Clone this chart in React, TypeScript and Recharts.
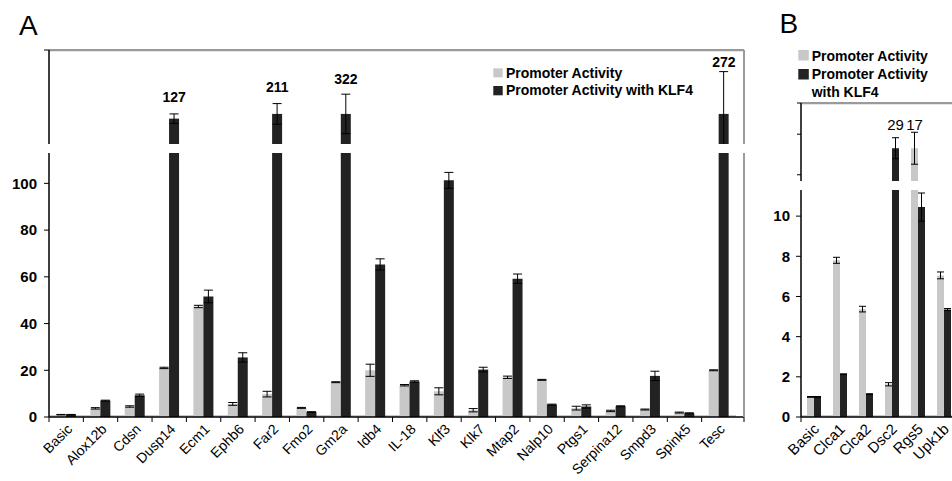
import React from 'react';
import { ComposedChart, Bar, XAxis, YAxis, ErrorBar, Scatter, ReferenceArea } from 'recharts';

const FONT = '"Liberation Sans", Arial, Helvetica, sans-serif';
const GRAY = '#c8c8c8';
const DARK = '#222222';
const BORDER = '#9a9a9a';

// ---------------- Panel A data ----------------
const genesA = ['Basic', 'Alox12b', 'Cdsn', 'Dusp14', 'Ecm1', 'Ephb6', 'Far2', 'Fmo2', 'Gm2a', 'Idb4', 'IL-18', 'Klf3', 'Klk7', 'Mtap2', 'Nalp10', 'Ptgs1', 'Serpina12', 'Smpd3', 'Spink5', 'Tesc'];
const activityA = [1.0, 3.7, 4.5, 21.0, 47.3, 5.6, 9.8, 3.9, 14.9, 20.0, 13.6, 11.0, 2.9, 17.0, 15.9, 3.8, 2.6, 3.2, 1.9, 20.0];
const activityErrA = [0.1, 0.3, 0.3, 0.3, 0.5, 0.6, 1.2, 0.2, 0.2, 2.6, 0.3, 1.5, 0.7, 0.5, 0.2, 0.8, 0.3, 0.2, 0.2, 0.2];
const klf4A = [1.0, 7.0, 9.3, 127, 51.6, 25.5, 211, 2.1, 322, 65.3, 15.2, 101.3, 20.3, 59.2, 5.3, 4.5, 4.6, 17.6, 1.6, 272];
const klf4ErrA = [0.1, 0.2, 0.5, null, 2.7, 2.0, null, 0.2, null, 2.4, 0.3, 3.4, 1.0, 2.0, 0.2, 0.7, 0.2, 2.0, 0.2, null];
// upper (broken-axis) segment of panel A, in the segment's own display units (0-100)
const klf4UpperA = [null, null, null, 27, null, null, 32, null, 32, null, null, null, null, null, null, null, null, null, null, 32];
const klf4UpperErrA = [null, null, null, 5, null, null, 11, null, 21, null, null, null, null, null, null, null, null, null, null, 45];
const labelHeightA = [null, null, null, 45, null, null, 55, null, 64, null, null, null, null, null, null, null, null, null, null, 82];
const yTicksA = [0, 20, 40, 60, 80, 100];

// ---------------- Panel B data ----------------
const genesB = ['Basic', 'Clca1', 'Clca2', 'Dsc2', 'Rgs5', 'Upk1b'];
const activityB = [1.0, 7.8, 5.37, 1.63, 17, 7.05];
const activityErrB = [0.02, 0.15, 0.14, 0.08, null, 0.17];
const klf4B = [1.0, 2.13, 1.14, 29, 10.45, 5.35];
const klf4ErrB = [0.02, 0.02, 0.02, null, 0.7, 0.05];
const activityUpperB = [null, null, null, null, 42, null];
const activityUpperErrB = [null, null, null, null, 20.5, null];
const klf4UpperB = [null, null, null, 42, null, null];
const klf4UpperErrB = [null, null, null, 13.5, null, null];
const labelHeightB = [null, null, null, 65, 65, null];
const yTicksB = [0, 2, 4, 6, 8, 10];
const upperTicksB = [8, 60, 100];

const dataA = genesA.map((gene, i) => ({
  gene,
  basal: activityA[i],
  basalErr: activityErrA[i],
  klf4: klf4A[i],
  klf4Err: klf4ErrA[i],
  basalUp: null as number | null,
  klf4Up: klf4UpperA[i],
  klf4UpErr: klf4UpperErrA[i],
  klf4LabelPos: labelHeightA[i],
  klf4Label: labelHeightA[i] != null ? String(klf4A[i]) : null,
}));

const dataB = genesB.map((gene, i) => ({
  gene,
  basal: activityB[i],
  basalErr: activityErrB[i],
  klf4: klf4B[i],
  klf4Err: klf4ErrB[i],
  basalUp: activityUpperB[i],
  basalUpErr: activityUpperErrB[i],
  klf4Up: klf4UpperB[i],
  klf4UpErr: klf4UpperErrB[i],
  basalLabelPos: activityUpperB[i] != null ? labelHeightB[i] : null,
  basalLabel: activityUpperB[i] != null ? String(activityB[i]) : null,
  klf4LabelPos: klf4UpperB[i] != null ? labelHeightB[i] : null,
  klf4Label: klf4UpperB[i] != null ? String(klf4B[i]) : null,
}));

// ---------------- layout (page coordinates) ----------------
const A_LEFT = 49;
const A_RIGHT = 744;
const A_PAD = 8;
const A_AXIS_W = 41;
const A_X0 = 8;
const A_CHART_W = A_RIGHT + 2 - A_X0;
const BAND_A = (A_RIGHT - A_LEFT - A_PAD) / genesA.length;
const BAR_A = 10;

const B_AXIS_W = 40;
const B_LEFT = 801;
const B_CHART_W = B_AXIS_W + 156;
const BAR_B = 7;

function makeValueLabel(textKey: string, dx: number, bold: boolean, size: number) {
  return (props: any) => {
    const { cx, cy, payload } = props;
    if (!payload || payload[textKey] == null || cx == null || cy == null || Number.isNaN(cy)) return <g />;
    return (
      <text x={cx + dx} y={cy} textAnchor="middle" fontFamily={FONT} fontSize={size} fontWeight={bold ? 'bold' : 'normal'} fill="#000">
        {payload[textKey]}
      </text>
    );
  };
}

function TickA(props: any) {
  const { x, y, payload, index } = props;
  const h = BAND_A / 2;
  const lx = x + 7;
  const ly = y + 13;
  return (
    <g>
      <line x1={x - h} x2={x - h} y1={y} y2={y + 5} stroke="#000" strokeWidth={1} />
      {index === genesA.length - 1 ? (
        <line x1={x + h + A_PAD} x2={x + h + A_PAD} y1={y} y2={y + 5} stroke="#000" strokeWidth={1} />
      ) : null}
      <text x={lx} y={ly} transform={`rotate(-45 ${lx} ${ly})`} textAnchor="end" fontFamily={FONT} fontSize={14} fill="#000">
        {payload.value}
      </text>
    </g>
  );
}

function TickB(props: any) {
  const { x, y, payload, index } = props;
  const h = 13;
  const lx = x + 6;
  const ly = y + 13;
  return (
    <g>
      {index === 0 ? <line x1={x - h} x2={x - h} y1={y} y2={y + 5} stroke="#000" strokeWidth={1} /> : null}
      <text x={lx} y={ly} transform={`rotate(-45 ${lx} ${ly})`} textAnchor="end" fontFamily={FONT} fontSize={15} fill="#000">
        {payload.value}
      </text>
    </g>
  );
}

const yTickStyle = { fontSize: 15, fontWeight: 'bold', fill: '#000', fontFamily: FONT } as any;
const axisBlack = { stroke: '#000', strokeWidth: 1.5 };
const axisGrayTop = { stroke: BORDER, strokeWidth: 2.5 };
const axisGrayRight = { stroke: BORDER, strokeWidth: 2 };

function Abs({ left, top, children }: { left: number; top: number; children: React.ReactNode }) {
  return <div style={{ position: 'absolute', left, top }}>{children}</div>;
}

export default function App() {
  return (
    <div style={{ position: 'relative', width: 952, height: 481, overflow: 'hidden', background: '#fff', fontFamily: FONT }}>
      <style>{'html { overflow: hidden; } body { margin: 0; }'}</style>
      {/* Panel A - upper segment */}
      <Abs left={A_X0} top={49}>
        <ComposedChart width={A_CHART_W} height={95} data={dataA} margin={{ top: 0, right: 0, bottom: 0, left: 0 }} barGap={0}>
          <XAxis dataKey="gene" hide padding={{ left: 0, right: A_PAD }} />
          <XAxis xAxisId="t" orientation="top" dataKey="gene" height={1} tick={false} tickLine={false} axisLine={axisGrayTop} padding={{ left: 0, right: A_PAD }} />
          <YAxis domain={[0, 100]} ticks={[100]} tickFormatter={() => ''} width={A_AXIS_W} tickSize={5} axisLine={axisBlack} tickLine={{ stroke: '#000' }} allowDataOverflow />
          <YAxis yAxisId="r" orientation="right" width={2} tick={false} tickLine={false} axisLine={axisGrayRight} />
          <Bar dataKey="basalUp" fill={GRAY} barSize={BAR_A} isAnimationActive={false} />
          <Bar dataKey="klf4Up" fill={DARK} barSize={BAR_A} isAnimationActive={false}>
            <ErrorBar dataKey="klf4UpErr" width={4.5} stroke="#000" strokeWidth={1} />
          </Bar>
          <Scatter dataKey="klf4LabelPos" legendType="none" isAnimationActive={false} shape={makeValueLabel('klf4Label', BAR_A / 2, true, 14)} />
        </ComposedChart>
      </Abs>

      {/* Panel A - lower segment */}
      <Abs left={A_X0} top={153}>
        <ComposedChart width={A_CHART_W} height={328} data={dataA} margin={{ top: 0, right: 0, bottom: 0, left: 0 }} barGap={0}>
          <XAxis dataKey="gene" height={64} interval={0} tickSize={0} tickMargin={0} tickLine={false} axisLine={axisBlack} padding={{ left: 0, right: A_PAD }} tick={<TickA />} />
          <YAxis domain={[0, 113]} ticks={yTicksA} interval={0} width={A_AXIS_W} tickSize={5} tickMargin={7} axisLine={axisBlack} tickLine={{ stroke: '#000' }} tick={yTickStyle} allowDataOverflow />
          <YAxis yAxisId="r" orientation="right" width={2} tick={false} tickLine={false} axisLine={axisGrayRight} />
          <ReferenceArea y1={0} y2={0.9} fill={GRAY} fillOpacity={1} stroke="none" />
          <Bar dataKey="basal" fill={GRAY} barSize={BAR_A} isAnimationActive={false}>
            <ErrorBar dataKey="basalErr" width={4.5} stroke="#000" strokeWidth={1} />
          </Bar>
          <Bar dataKey="klf4" fill={DARK} barSize={BAR_A} isAnimationActive={false}>
            <ErrorBar dataKey="klf4Err" width={4.5} stroke="#000" strokeWidth={1} />
          </Bar>
        </ComposedChart>
      </Abs>

      {/* Panel B - upper segment */}
      <Abs left={B_LEFT - B_AXIS_W} top={102}>
        <ComposedChart width={B_CHART_W} height={79} data={dataB} margin={{ top: 0, right: 0, bottom: 0, left: 0 }} barGap={0}>
          <XAxis dataKey="gene" hide />
          <XAxis xAxisId="t" orientation="top" dataKey="gene" height={1} tick={false} tickLine={false} axisLine={axisGrayTop} />
          <YAxis domain={[0, 100]} ticks={upperTicksB} tickFormatter={() => ''} width={B_AXIS_W} tickSize={4} axisLine={axisBlack} tickLine={{ stroke: '#000' }} allowDataOverflow />
          <Bar dataKey="basalUp" fill={GRAY} barSize={BAR_B} isAnimationActive={false}>
            <ErrorBar dataKey="basalUpErr" width={3.5} stroke="#000" strokeWidth={1} />
          </Bar>
          <Bar dataKey="klf4Up" fill={DARK} barSize={BAR_B} isAnimationActive={false}>
            <ErrorBar dataKey="klf4UpErr" width={3.5} stroke="#000" strokeWidth={1} />
          </Bar>
          <Scatter dataKey="basalLabelPos" legendType="none" isAnimationActive={false} shape={makeValueLabel('basalLabel', -BAR_B / 2, false, 15)} />
          <Scatter dataKey="klf4LabelPos" legendType="none" isAnimationActive={false} shape={makeValueLabel('klf4Label', BAR_B / 2, false, 15)} />
        </ComposedChart>
      </Abs>

      {/* Panel B - lower segment */}
      <Abs left={B_LEFT - B_AXIS_W} top={190}>
        <ComposedChart width={B_CHART_W} height={287} data={dataB} margin={{ top: 0, right: 0, bottom: 0, left: 0 }} barGap={0}>
          <XAxis dataKey="gene" height={60} interval={0} tickSize={0} tickMargin={0} tickLine={false} axisLine={axisBlack} tick={<TickB />} />
          <YAxis domain={[0, 11.3]} ticks={yTicksB} interval={0} width={B_AXIS_W} tickSize={5} tickMargin={6} axisLine={axisBlack} tickLine={{ stroke: '#000' }} tick={yTickStyle} allowDataOverflow />
          <ReferenceArea y1={0} y2={0.1} fill={GRAY} fillOpacity={1} stroke="none" />
          <Bar dataKey="basal" fill={GRAY} barSize={BAR_B} isAnimationActive={false}>
            <ErrorBar dataKey="basalErr" width={3.5} stroke="#000" strokeWidth={1} />
          </Bar>
          <Bar dataKey="klf4" fill={DARK} barSize={BAR_B} isAnimationActive={false}>
            <ErrorBar dataKey="klf4Err" width={3.5} stroke="#000" strokeWidth={1} />
          </Bar>
        </ComposedChart>
      </Abs>

      {/* panel letters and legends (page coordinates) */}
      <svg width={952} height={481} style={{ position: 'absolute', left: 0, top: 0, pointerEvents: 'none' }}>
        <text x={19} y={35} fontFamily={FONT} fontSize={28} fill="#000">A</text>
        <text x={779.5} y={33} fontFamily={FONT} fontSize={28} fill="#000">B</text>

        <rect x={493.3} y={68.3} width={9.4} height={9} fill={GRAY} />
        <text x={506} y={77.5} fontFamily={FONT} fontSize={14} fontWeight="bold" fill="#000">Promoter Activity</text>
        <rect x={493.3} y={86} width={9.4} height={9.3} fill={DARK} />
        <text x={506} y={95} fontFamily={FONT} fontSize={14} fontWeight="bold" fill="#000">Promoter Activity with KLF4</text>

        <rect x={798.3} y={50} width={10.5} height={10.5} fill={GRAY} />
        <text x={811.7} y={60.5} fontFamily={FONT} fontSize={14} fontWeight="bold" fill="#000">Promoter Activity</text>
        <rect x={798.3} y={69} width={10.5} height={10.5} fill={DARK} />
        <text x={811.7} y={79} fontFamily={FONT} fontSize={14} fontWeight="bold" fill="#000">Promoter Activity</text>
        <text x={811.7} y={97} fontFamily={FONT} fontSize={14} fontWeight="bold" fill="#000">with KLF4</text>
      </svg>
    </div>
  );
}
